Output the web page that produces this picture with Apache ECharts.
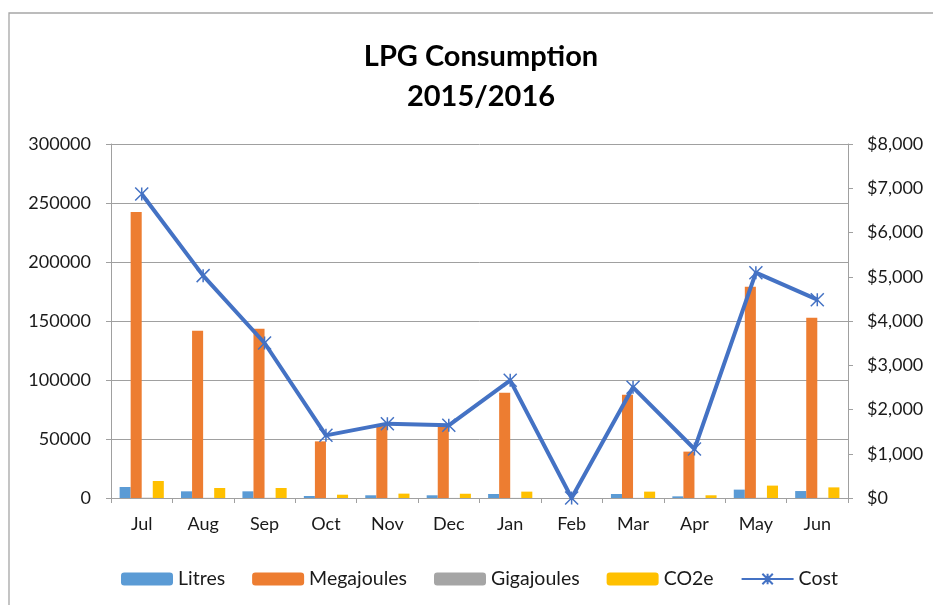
<!DOCTYPE html>
<html>
<head>
<meta charset="utf-8">
<script src="https://cdn.jsdelivr.net/npm/echarts@6/dist/echarts.min.js"></script>
<style>
html,body{margin:0;padding:0;background:#fff;}
#chart{width:933px;height:605px;}
</style>
</head>
<body>
<div id="chart"></div>
<script>
var categories = ['Jul','Aug','Sep','Oct','Nov','Dec','Jan','Feb','Mar','Apr','May','Jun'];
var litres = [9300, 5650, 5650, 1700, 2300, 2300, 3400, 0, 3400, 1400, 7100, 5900];
var megajoules = [242400, 141800, 143500, 48000, 61000, 60500, 89300, 0, 87600, 39300, 179100, 152800];
var gigajoules = [242, 142, 144, 48, 61, 61, 89, 0, 88, 39, 179, 153];
var co2e = [14400, 8500, 8500, 2800, 3700, 3600, 5400, 0, 5400, 2300, 10500, 9000];
var cost = [6870, 5025, 3503, 1416, 1680, 1642, 2659, 0, 2501, 1107, 5092, 4482];
var leftTicks = {min: 0, max: 300000, interval: 50000};
var rightTicks = {min: 0, max: 8000, interval: 1000};

var FONT = 'Lato';
var TXT = '#1a1a1a';
var GRID = '#a0a0a0';

function money(v){
  return '$' + String(v).replace(/\B(?=(\d{3})+(?!\d))/g, ',');
}
function plain(v){ return String(v); }

var chart = echarts.init(document.getElementById('chart'), null, {renderer: 'canvas'});
var barBase = {type: 'bar', barGap: '0%', barCategoryGap: '28%', yAxisIndex: 0};
chart.setOption({
  animation: false,
  backgroundColor: '#fff',
  textStyle: {fontFamily: FONT},
  title: {
    text: 'LPG Consumption\n2015/2016',
    left: 476, top: 32, textAlign: 'center',
    textStyle: {fontFamily: FONT, fontWeight: 'bold', fontSize: 29, lineHeight: 40, color: '#000'}
  },
  graphic: [
    {type: 'polyline', shape: {points: [[9, 605], [9, 13], [933, 13]]},
     style: {stroke: '#a6a6a6', lineWidth: 1.3, fill: null}, silent: true}
  ],
  grid: {left: 111, right: 85, top: 144, bottom: 107},
  legend: {
    left: 116, top: 564,
    itemWidth: 52, itemHeight: 13, itemGap: 27,
    textStyle: {fontFamily: FONT, fontSize: 19.5, color: TXT},
    data: ['Litres', 'Megajoules', 'Gigajoules', 'CO2e', 'Cost']
  },
  xAxis: {
    type: 'category', data: categories, boundaryGap: true,
    axisLine: {lineStyle: {color: GRID, width: 1}},
    axisTick: {show: true, length: 5, alignWithLabel: false, lineStyle: {color: GRID}},
    axisLabel: {fontFamily: FONT, fontSize: 18, color: TXT, margin: 17}
  },
  yAxis: [
    {
      type: 'value', min: leftTicks.min, max: leftTicks.max, interval: leftTicks.interval,
      axisLine: {show: true, lineStyle: {color: GRID}},
      axisTick: {show: true, length: 5, lineStyle: {color: GRID}},
      splitLine: {show: true, lineStyle: {color: GRID, width: 1}},
      axisLabel: {fontFamily: FONT, fontSize: 18, color: TXT, margin: 20, formatter: plain}
    },
    {
      type: 'value', position: 'right', min: rightTicks.min, max: rightTicks.max, interval: rightTicks.interval,
      axisLine: {show: true, lineStyle: {color: GRID}},
      axisTick: {show: true, length: 5, lineStyle: {color: GRID}},
      splitLine: {show: false},
      axisLabel: {fontFamily: FONT, fontSize: 18, color: TXT, margin: 19, formatter: money}
    }
  ],
  series: [
    Object.assign({}, barBase, {name: 'Litres', data: litres, itemStyle: {color: '#5B9BD5'}}),
    Object.assign({}, barBase, {name: 'Megajoules', data: megajoules, itemStyle: {color: '#ED7D31'}}),
    Object.assign({}, barBase, {name: 'Gigajoules', data: gigajoules, itemStyle: {color: '#A5A5A5'}}),
    Object.assign({}, barBase, {name: 'CO2e', data: co2e, itemStyle: {color: '#FFC000'}}),
    {
      name: 'Cost', type: 'line', yAxisIndex: 1, data: cost,
      symbol: 'path://M0,0L10,10M10,0L0,10M5,0L5,10M5,10L5,0M10,10L0,0M0,10L10,0',
      symbolSize: 13, showAllSymbol: true,
      lineStyle: {color: '#4472C4', width: 4},
      itemStyle: {color: '#4472C4', borderColor: '#4472C4', borderWidth: 1.5},
      z: 5
    }
  ]
});
</script>
</body>
</html>
